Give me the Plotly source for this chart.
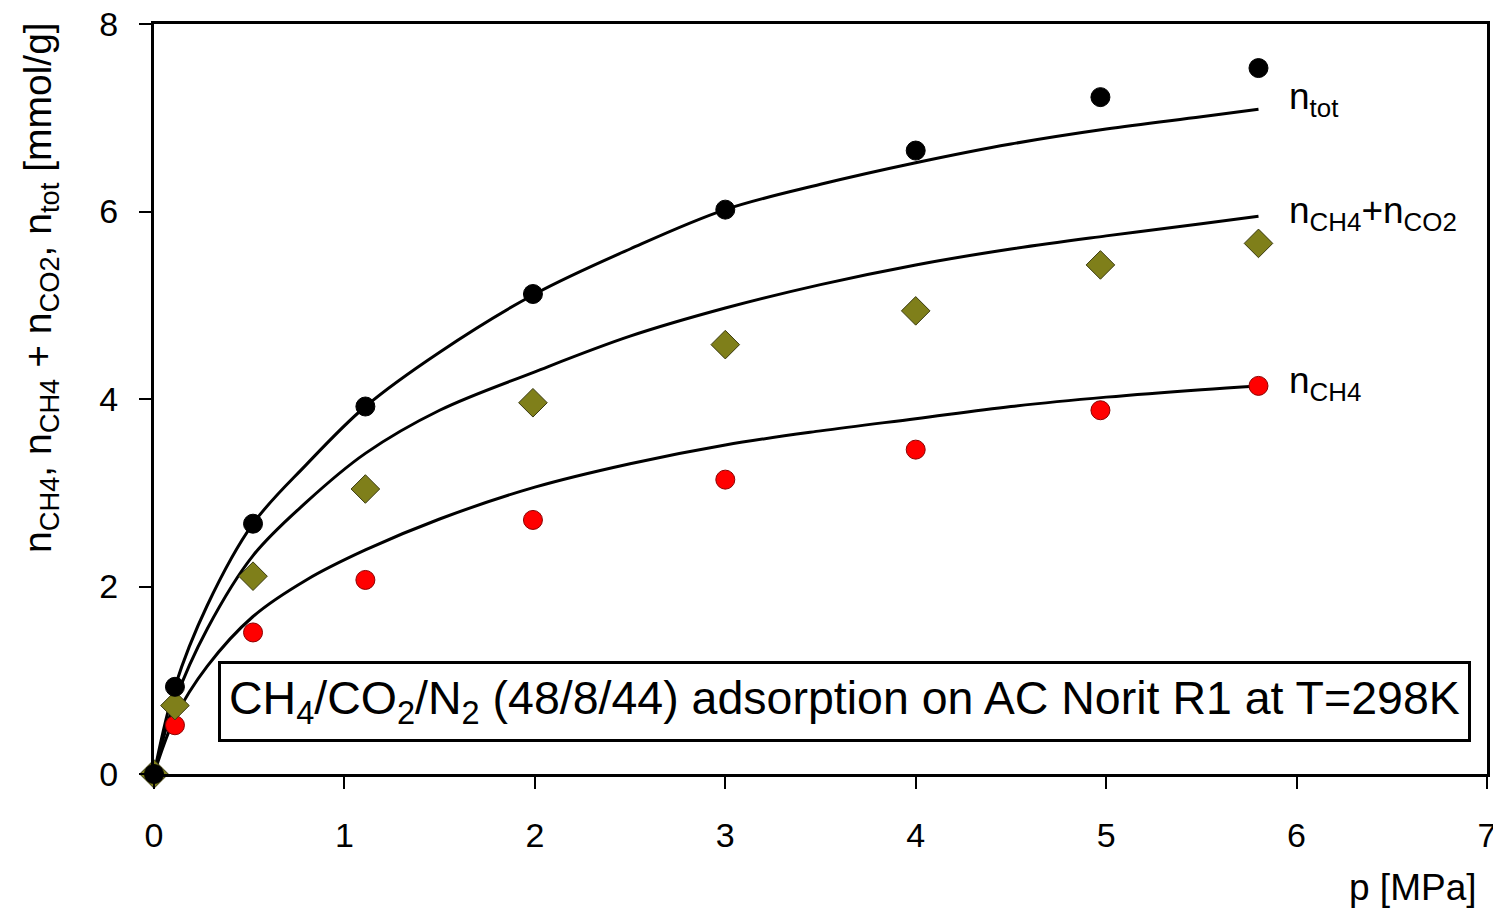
import plotly.graph_objects as go

# Experimental data
p_exp = [0.0, 0.11, 0.52, 1.11, 1.99, 3.0, 4.0, 4.97, 5.8]
n_tot = [0.0, 0.93, 2.67, 3.92, 5.12, 6.02, 6.65, 7.22, 7.53]
n_ch4_co2 = [0.0, 0.73, 2.11, 3.04, 3.96, 4.58, 4.94, 5.43, 5.66]
n_ch4 = [0.0, 0.52, 1.51, 2.07, 2.71, 3.14, 3.46, 3.88, 4.14]

# Model curves
p_fit = [0.0, 0.11, 0.28, 0.52, 0.80, 1.11, 1.5, 2.0, 2.5, 3.0, 3.5, 4.0, 4.5, 5.0, 5.5, 5.8]
fit_tot = [0.0, 0.93, 1.80, 2.67, 3.30, 3.92, 4.50, 5.12, 5.60, 6.02, 6.29, 6.52, 6.72, 6.88, 7.01, 7.09]
fit_ch4_co2 = [0.0, 0.78, 1.55, 2.33, 2.90, 3.42, 3.88, 4.29, 4.67, 4.97, 5.22, 5.43, 5.60, 5.74, 5.87, 5.95]
fit_ch4 = [0.0, 0.60, 1.15, 1.68, 2.07, 2.39, 2.72, 3.06, 3.31, 3.51, 3.66, 3.79, 3.92, 4.02, 4.10, 4.14]

x_ticks = [0, 1, 2, 3, 4, 5, 6, 7]
y_ticks = [0, 2, 4, 6, 8]

FONT = "Liberation Sans, Arial, sans-serif"
OFF = 8  # page body margin
W, H = 1501 - OFF, 917 - 2 * OFF
ML, MT = 154 - OFF, 24 - OFF
PW, PH = 1333, 750
MR, MB = W - ML - PW, H - MT - PH


def px_x(px):
    return (px - OFF - ML) / PW


def px_y(py):
    return (MT + PH - (py - OFF)) / PH


fig = go.Figure()

for fy in [fit_tot, fit_ch4_co2, fit_ch4]:
    fig.add_trace(go.Scatter(x=p_fit, y=fy, mode="lines",
                             line=dict(color="black", width=3, shape="spline", smoothing=1.0),
                             showlegend=False, hoverinfo="skip"))

fig.add_trace(go.Scatter(x=p_exp, y=n_ch4, mode="markers", cliponaxis=False, showlegend=False,
                         marker=dict(symbol="circle", size=19, color="#ff0000", line=dict(color="#8b0000", width=1))))
fig.add_trace(go.Scatter(x=p_exp, y=n_ch4_co2, mode="markers", cliponaxis=False, showlegend=False,
                         marker=dict(symbol="diamond", size=22, color="#7f7f1a", line=dict(color="#3a3a10", width=1))))
fig.add_trace(go.Scatter(x=p_exp, y=n_tot, mode="markers", cliponaxis=False, showlegend=False,
                         marker=dict(symbol="circle", size=19, color="black", line=dict(color="black", width=1))))

lab_font = dict(family=FONT, size=37, color="black")
fig.add_annotation(x=5.95, y=7.2, xref="x", yref="y", text="n<sub>tot</sub>", showarrow=False,
                   xanchor="left", yanchor="middle", font=lab_font)
fig.add_annotation(x=5.95, y=5.98, xref="x", yref="y", text="n<sub>CH4</sub>+n<sub>CO2</sub>", showarrow=False,
                   xanchor="left", yanchor="middle", font=lab_font)
fig.add_annotation(x=5.95, y=4.17, xref="x", yref="y", text="n<sub>CH4</sub>", showarrow=False,
                   xanchor="left", yanchor="middle", font=lab_font)

fig.add_annotation(x=px_x(218), y=px_y(701), xref="paper", yref="paper",
                   text="CH<sub>4</sub>/CO<sub>2</sub>/N<sub>2</sub> (48/8/44) adsorption on AC Norit R1 at T=298K",
                   showarrow=False, xanchor="left", yanchor="middle",
                   font=dict(family=FONT, size=46.5, color="black"),
                   bordercolor="black", borderwidth=3, borderpad=8, bgcolor="white")

fig.add_annotation(x=px_x(40), y=px_y(288), xref="paper", yref="paper",
                   text="n<sub>CH4</sub>, n<sub>CH4</sub> + n<sub>CO2</sub>, n<sub>tot</sub> [mmol/g]",
                   showarrow=False, textangle=-90, xanchor="center", yanchor="middle",
                   font=dict(family=FONT, size=39, color="black"))

fig.add_annotation(x=px_x(1479), y=px_y(888), xref="paper", yref="paper", text="p [MPa]", showarrow=False,
                   xanchor="right", yanchor="middle", font=dict(family=FONT, size=37, color="black"))

common = dict(ticks="outside", ticklen=12, tickwidth=2, tickcolor="black", automargin=False,
              ticklabeloverflow="allow",
              showline=True, linewidth=3, linecolor="black", mirror=True, showgrid=False, zeroline=False,
              tickfont=dict(family=FONT, size=34, color="black"))
fig.update_xaxes(range=[0, 7], tickvals=x_ticks, ticklabelstandoff=17, **common)
fig.update_yaxes(range=[0, 8], tickvals=y_ticks, ticklabelstandoff=14, **common)

fig.update_layout(width=W, height=H, margin=dict(l=ML, r=MR, t=MT, b=MB, autoexpand=False),
                  plot_bgcolor="white", paper_bgcolor="white")

fig.write_html("out.html")
